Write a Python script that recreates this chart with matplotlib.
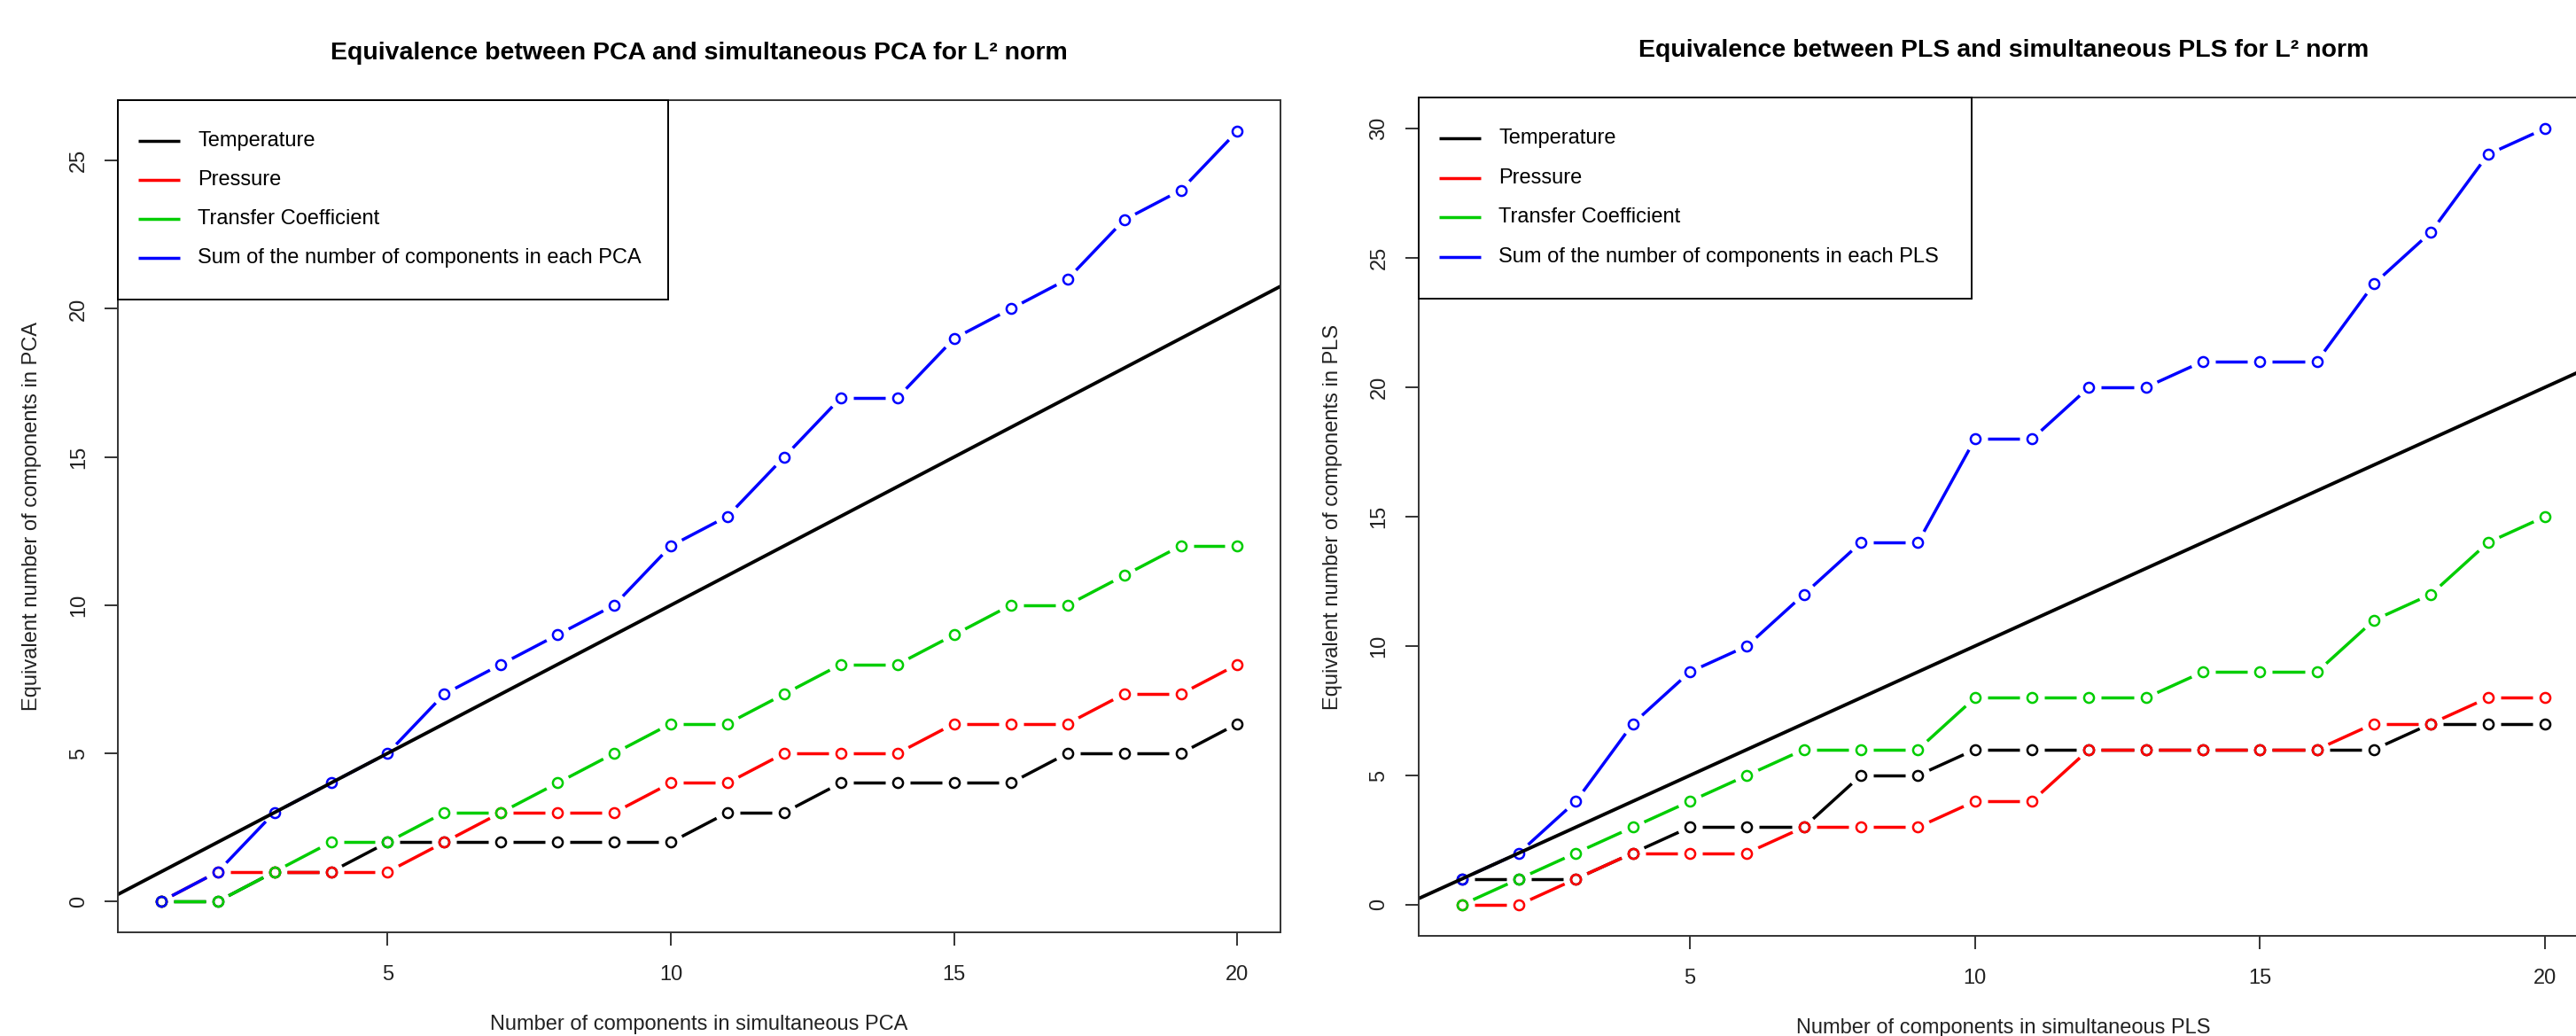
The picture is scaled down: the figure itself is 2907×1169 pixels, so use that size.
import numpy as np
import matplotlib
matplotlib.use('Agg')
import matplotlib.pyplot as plt
from matplotlib.collections import LineCollection
from matplotlib.patches import Rectangle

plt.rcParams['font.family'] = ['Liberation Sans', 'DejaVu Sans']

componentes = list(range(1, 21))

pca_temperature = [0, 0, 1, 1, 2, 2, 2, 2, 2, 2, 3, 3, 4, 4, 4, 4, 5, 5, 5, 6]
pca_pressure = [0, 1, 1, 1, 1, 2, 3, 3, 3, 4, 4, 5, 5, 5, 6, 6, 6, 7, 7, 8]
pca_transfer = [0, 0, 1, 2, 2, 3, 3, 4, 5, 6, 6, 7, 8, 8, 9, 10, 10, 11, 12, 12]
pca_sum = [0, 1, 3, 4, 5, 7, 8, 9, 10, 12, 13, 15, 17, 17, 19, 20, 21, 23, 24, 26]

pls_temperature = [1, 1, 1, 2, 3, 3, 3, 5, 5, 6, 6, 6, 6, 6, 6, 6, 6, 7, 7, 7]
pls_pressure = [0, 0, 1, 2, 2, 2, 3, 3, 3, 4, 4, 6, 6, 6, 6, 6, 7, 7, 8, 8]
pls_transfer = [0, 1, 2, 3, 4, 5, 6, 6, 6, 8, 8, 8, 8, 9, 9, 9, 11, 12, 14, 15]
pls_sum = [1, 2, 4, 7, 9, 10, 12, 14, 14, 18, 18, 20, 20, 21, 21, 21, 24, 26, 29, 30]

nombres = ['Temperature', 'Pressure', 'Transfer Coefficient']
colores = ['black', '#FF0000', '#00CD00', '#0000FF']

FS = 17
GAP_PX = 14
LW = 2.5


def rango_r(valores):
    # extension del 4% como hace R
    lo, hi = min(valores), max(valores)
    d = (hi - lo) * 0.04
    return lo - d, hi + d


def dibujar_tipo_b(ax, x, y, color):
    # lineas con huecos alrededor de los puntos (type = "b")
    pts = ax.transData.transform(np.column_stack([x, y]))
    inv = ax.transData.inverted()
    segs = []
    for p0, p1 in zip(pts[:-1], pts[1:]):
        d = p1 - p0
        largo = np.hypot(d[0], d[1])
        if largo <= 2 * GAP_PX:
            continue
        u = d / largo
        segs.append(inv.transform(np.array([p0 + u * GAP_PX, p1 - u * GAP_PX])))
    ax.add_collection(LineCollection(segs, colors=color, linewidths=LW), autolim=False)
    ax.plot(x, y, 'o', mfc='none', mec=color, ms=8, mew=1.8, ls='none')


def leyenda(ax, etiquetas):
    # recuadro estilo R arriba a la izquierda
    ax.add_patch(Rectangle((0, 0.76), 0.473, 0.24, transform=ax.transAxes,
                           facecolor='white', edgecolor='black', lw=1.4,
                           zorder=5, clip_on=False))
    for i, (texto, color) in enumerate(zip(etiquetas, colores)):
        yy = 1 - 0.049 - 0.047 * i
        ax.plot([0.0175, 0.0534], [yy, yy], color=color, lw=LW,
                transform=ax.transAxes, zorder=6, solid_capstyle='butt')
        ax.text(0.0686, yy, texto, transform=ax.transAxes, fontsize=FS,
                va='center', ha='left', zorder=6)


def graficar_panel(ax, series, titulo, xlabel, ylabel, etiqueta_suma):
    ax.set_xlim(rango_r(componentes))
    ax.set_ylim(rango_r([0] + series[-1]))
    for serie, color in zip(series, colores):
        dibujar_tipo_b(ax, componentes, serie, color)
    ax.axline((0, 0), slope=1, color='black', lw=2.8)

    ax.set_xticks([5, 10, 15, 20])
    ax.set_yticks(np.arange(0, max(series[-1]) + 1, 5))
    ax.tick_params(direction='out', length=11, width=1.4, colors='#333333',
                   labelsize=FS, labelcolor='#222222')
    ax.tick_params(axis='x', pad=16)
    ax.tick_params(axis='y', pad=13)
    for lab in ax.get_yticklabels():
        lab.set_rotation(90)
        lab.set_va('center')
    for sp in ax.spines.values():
        sp.set_linewidth(1.4)
        sp.set_color('#333333')

    ax.set_title(titulo, fontsize=20.5, fontweight='bold', pad=33)
    ax.set_xlabel(xlabel, fontsize=FS, labelpad=24, color='#222222')
    ax.set_ylabel(ylabel, fontsize=FS, labelpad=22, color='#222222')

    leyenda(ax, nombres + [etiqueta_suma])


def main():
    fig = plt.figure(figsize=(29.07, 11.69), dpi=100)
    ax1 = fig.add_axes([0.0458, 0.1001, 0.4513, 0.8032])
    ax2 = fig.add_axes([0.5507, 0.0967, 0.4541, 0.8092])

    graficar_panel(ax1, [pca_temperature, pca_pressure, pca_transfer, pca_sum],
                   'Equivalence between PCA and simultaneous PCA for L\u00b2 norm',
                   'Number of components in simultaneous PCA',
                   'Equivalent number of components in PCA',
                   'Sum of the number of components in each PCA')
    graficar_panel(ax2, [pls_temperature, pls_pressure, pls_transfer, pls_sum],
                   'Equivalence between PLS and simultaneous PLS for L\u00b2 norm',
                   'Number of components in simultaneous PLS',
                   'Equivalent number of components in PLS',
                   'Sum of the number of components in each PLS')

    fig.savefig('out.png', dpi=100)
    plt.close(fig)


if __name__ == "__main__":
    main()
